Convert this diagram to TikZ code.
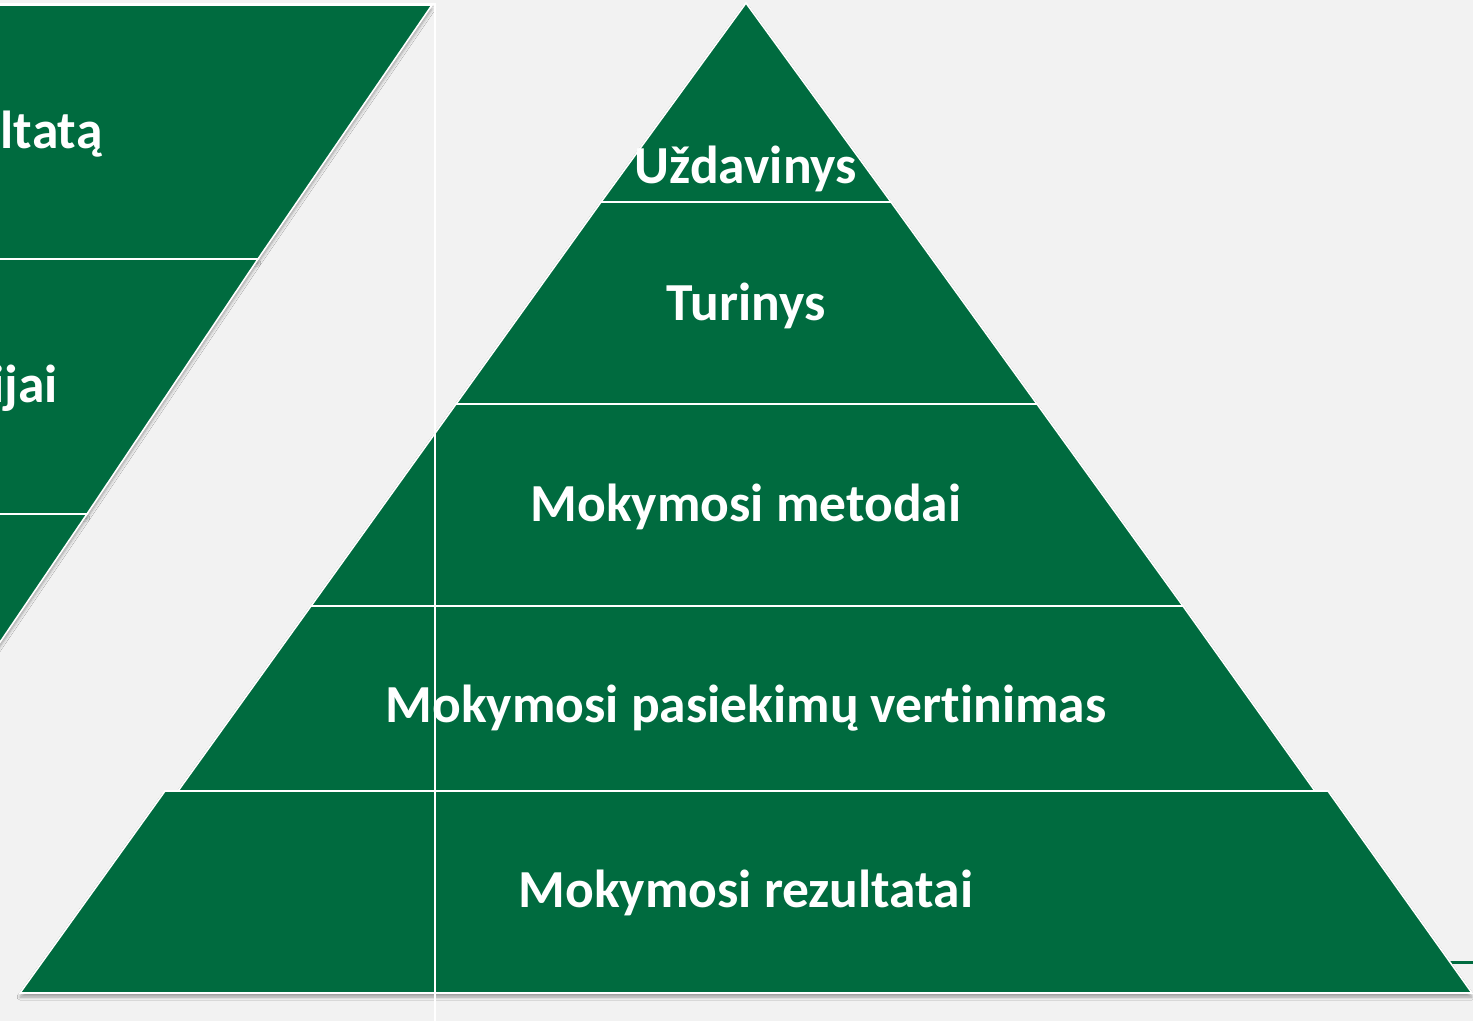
\documentclass[tikz,border=0pt]{standalone}
\usepackage{fontspec}
\setmainfont{Carlito}[Ligatures=CommonOff]
\usetikzlibrary{shadows.blur}
\definecolor{bggray}{RGB}{242,242,242}
\definecolor{dkgreen}{RGB}{0,107,63}
\tikzset{
  band/.style={fill=dkgreen, draw=white, line width=1.6pt, line join=miter,
    blur shadow={shadow xshift=0pt, shadow yshift=-4pt, shadow blur steps=6, shadow opacity=35, shadow blur radius=3pt}},
  lbl/.style={text=white, font=\bfseries\fontsize{53.5}{60}\selectfont, inner sep=0pt},
  frame/.style={draw=white, line width=2pt}
}
\begin{document}
\begin{tikzpicture}[x=1pt,y=-1pt]
\useasboundingbox[fill=bggray] (0,0) rectangle (1473,1021);
% left partial shape
\begin{scope}
\clip (0,0) rectangle (1473,1021);
\path[band] (-10,5) -- (432,5) -- (258,259) -- (-10,259) -- cycle;
\path[band] (-10,259) -- (258,259) -- (87,514) -- (-10,514) -- cycle;
\path[band] (-10,514) -- (87,514) -- (-10,657) -- cycle;
\end{scope}
\node[lbl, anchor=base east] (l1) at (103,148) {ltatą};
\node[lbl, anchor=base east] (l2) at (58,402) {ijai};
% stray green line at bottom right
\draw[dkgreen, line width=3pt] (1420,962) -- (1473,962);
% pyramid bands
\path[band] (746,3) -- (891,202) -- (601,202) -- cycle;
\path[band] (601,202) -- (891,202) -- (1037,404) -- (456,404) -- cycle;
\path[band] (456,404) -- (1037,404) -- (1183,606) -- (311,606) -- cycle;
\path[band] (311,606) -- (1183,606) -- (1315,791) -- (178,791) -- cycle;
\path[band] (165,791) -- (1328,791) -- (1472,993) -- (20,993) -- cycle;
% frame lines
\draw[frame] (0,4) -- (435,4) -- (435,1021);
% labels
\node[lbl, anchor=base] (t1) at (746,183) {Uždavinys};
\node[lbl, anchor=base] (t2) at (746,320) {Turinys};
\node[lbl, anchor=base] (t3) at (746,521) {Mokymosi metodai};
\node[lbl, anchor=base] (t4) at (746,722) {Mokymosi pasiekimų vertinimas};
\node[lbl, anchor=base] (t5) at (746,907) {Mokymosi rezultatai};
\end{tikzpicture}
\end{document}
